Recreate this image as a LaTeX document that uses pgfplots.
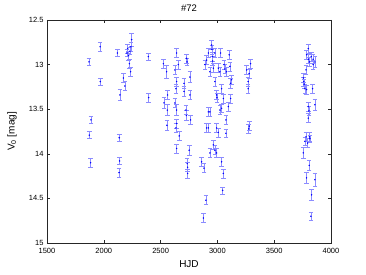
\documentclass[border=0pt]{standalone}
\usepackage{fontspec}
\setmainfont{Liberation Sans}
\usepackage{pgfplots}
\pgfplotsset{compat=1.18}
\begin{document}
\begin{tikzpicture}
\useasboundingbox (-47pt,-32pt) rectangle (319pt,243pt);
\begin{axis}[
  scale only axis, width=284pt, height=223pt,
  xmin=1500, xmax=4000, ymin=12.5, ymax=15, y dir=reverse,
  xtick={1500,2000,...,4000}, ytick={12.5,13,...,15},
  yticklabels={12.5,13,13.5,14,14.5,15},
  tick align=inside, major tick length=3pt,
  axis line style={black!85, line width=0.5pt},
  tick style={black!85, line width=0.5pt},
  tick label style={font=\fontsize{7.5}{9}\selectfont},
  xticklabel style={yshift=-1.5pt},
  /pgf/number format/assume math mode=true,
  /pgf/number format/1000 sep={},
  xlabel={HJD}, ylabel={V\textsubscript{0} [mag]},
  every axis x label/.style={at={(axis description cs:0.5,0)}, anchor=center, yshift=-21pt, font=\fontsize{10}{12}\selectfont},
  every axis y label/.style={at={(axis description cs:0,0.5)}, anchor=center, rotate=90, yshift=35pt, font=\fontsize{10}{12}\selectfont},
  title={\#72},
  every axis title/.style={at={(axis description cs:0.5,1)}, anchor=center, yshift=12pt, font=\fontsize{9.5}{11}\selectfont},
]
\addplot[only marks, mark=*, mark size=0.5pt, blue,
  error bars/.cd, y dir=both, y explicit,
  error bar style={blue!45, line width=0.6pt},
  error mark options={rotate=90, mark size=2.3pt, blue!45, line width=0.6pt}]
table[x=x, y=y, y error=e] {
x y e
1870 12.97 0.04
1967 12.80 0.05
1969 13.19 0.04
1887 13.62 0.04
1872 13.79 0.04
1884 14.10 0.05
2119 12.87 0.04
2142 13.34 0.06
2172 13.15 0.05
2185 13.24 0.05
2204 12.87 0.04
2210 12.82 0.05
2218 12.90 0.05
2225 12.99 0.05
2230 12.85 0.04
2236 13.08 0.05
2245 12.72 0.07
2238 12.80 0.05
2136 13.82 0.04
2139 14.08 0.04
2134 14.21 0.05
2392 12.91 0.04
2395 13.37 0.05
2524 12.99 0.05
2553 13.08 0.07
2562 13.34 0.05
2530 13.43 0.06
2559 13.51 0.06
2556 13.68 0.06
2641 12.87 0.05
2656 13.00 0.05
2626 13.06 0.05
2641 13.19 0.05
2635 13.27 0.05
2626 13.43 0.05
2641 13.51 0.06
2641 13.66 0.05
2635 13.71 0.05
2664 13.80 0.05
2641 13.94 0.05
2706 13.21 0.06
2706 13.30 0.06
2729 12.93 0.05
2733 12.97 0.04
2723 13.51 0.05
2727 13.57 0.06
2758 13.14 0.06
2758 13.34 0.05
2764 13.62 0.05
2752 13.96 0.06
2734 14.11 0.06
2738 14.15 0.05
2738 14.22 0.05
2861 14.09 0.05
2882 14.16 0.05
2934 13.99 0.05
2899 14.52 0.05
2876 14.72 0.05
2905 12.95 0.05
2920 13.71 0.05
2890 13.00 0.05
2920 12.87 0.05
2934 13.08 0.05
2949 12.78 0.05
2952 12.83 0.05
2958 12.91 0.05
2958 12.96 0.05
2964 13.04 0.05
2978 12.87 0.05
2978 13.19 0.05
2993 13.34 0.05
2996 13.37 0.05
3008 13.04 0.05
3022 13.08 0.05
3028 12.87 0.05
3037 13.27 0.05
3052 13.38 0.05
3058 13.00 0.05
3066 13.05 0.05
3081 13.08 0.05
3104 12.89 0.05
3110 13.02 0.05
3116 13.21 0.06
3125 13.17 0.05
3116 13.38 0.05
3096 13.47 0.05
3037 13.49 0.05
3022 13.51 0.05
2934 13.53 0.05
2920 13.53 0.05
2905 13.71 0.05
2993 13.71 0.05
3008 13.76 0.05
3075 13.62 0.05
3075 13.77 0.05
3257 13.06 0.05
3280 13.10 0.05
3292 12.99 0.05
3271 13.19 0.05
3271 13.27 0.05
3280 13.69 0.05
3276 13.72 0.05
3800 12.82 0.05
3785 12.89 0.05
3826 12.91 0.05
3800 12.94 0.05
3843 12.94 0.05
3810 12.97 0.05
3843 13.00 0.05
3780 13.06 0.05
3858 12.97 0.06
3756 13.15 0.05
3760 13.19 0.05
3764 13.22 0.05
3770 13.27 0.05
3785 13.28 0.05
3838 13.27 0.05
3858 13.45 0.06
3800 13.47 0.05
3806 13.52 0.05
3800 13.60 0.05
3780 13.81 0.05
3810 13.81 0.05
3756 13.99 0.06
3770 13.86 0.05
3794 13.88 0.05
3814 13.83 0.04
3808 14.13 0.06
3785 14.27 0.06
3858 14.29 0.07
3829 14.46 0.06
3823 14.70 0.04
3037 14.09 0.05
3052 14.22 0.05
3046 14.41 0.04
2964 13.90 0.05
2978 13.96 0.05
2993 13.99 0.05
};
\end{axis}
\end{tikzpicture}
\end{document}
